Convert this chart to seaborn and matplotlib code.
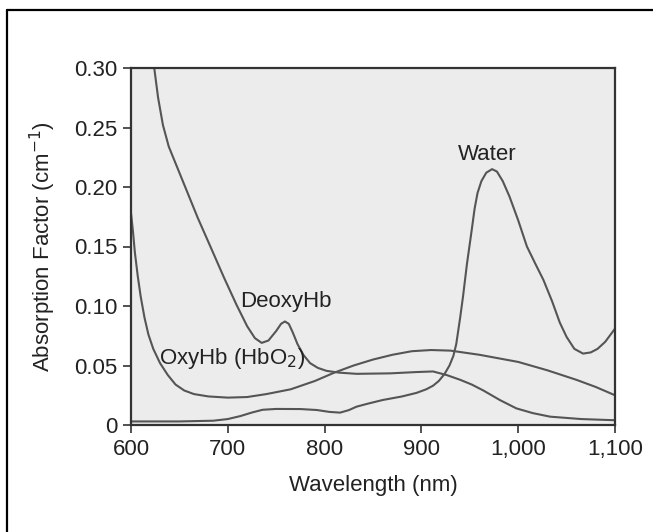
import matplotlib
matplotlib.use("Agg")
import matplotlib.pyplot as plt
import seaborn as sns
import pandas as pd
from matplotlib.lines import Line2D

# ---- data ----
deoxy_nm = [621, 624, 628, 633, 639, 647, 656, 669, 682, 696, 709, 720, 728, 735, 742, 750,
            755, 759, 763, 767, 772, 778, 785, 793, 802, 815, 833, 868, 895, 912, 926, 940,
            952, 964, 981, 998, 1015, 1033, 1065, 1100]
deoxy_val = [0.325, 0.300, 0.275, 0.252, 0.234, 0.218, 0.200, 0.174, 0.150, 0.124, 0.101, 0.083,
             0.073, 0.069, 0.071, 0.079, 0.085, 0.087, 0.085, 0.078, 0.068, 0.059, 0.052, 0.048,
             0.0455, 0.044, 0.043, 0.0434, 0.0445, 0.045, 0.042, 0.038, 0.034, 0.029, 0.021,
             0.014, 0.010, 0.007, 0.005, 0.004]

oxy_nm = [600, 602, 604, 607, 610, 614, 618, 623, 630, 638, 646, 655, 665, 680, 700, 720, 740,
          765, 790, 810, 830, 850, 870, 890, 910, 930, 960, 1000, 1030, 1060, 1080, 1100]
oxy_val = [0.178, 0.163, 0.145, 0.125, 0.108, 0.090, 0.076, 0.064, 0.052, 0.042, 0.034, 0.029,
           0.026, 0.024, 0.023, 0.0235, 0.026, 0.030, 0.037, 0.044, 0.050, 0.055, 0.059, 0.062,
           0.063, 0.0625, 0.059, 0.053, 0.046, 0.038, 0.032, 0.025]

water_nm = [600, 650, 685, 700, 713, 725, 736, 750, 775, 792, 805, 816, 825, 833, 845, 860, 880,
            895, 905, 912, 918, 924, 929, 933, 936, 940, 943, 947, 952, 955, 958, 962, 967, 973,
            978, 984, 991, 1000, 1009, 1018, 1026, 1035, 1043, 1050, 1058, 1067, 1075, 1082,
            1090, 1100]
water_val = [0.003, 0.003, 0.0036, 0.005, 0.0075, 0.0105, 0.0128, 0.0135, 0.0134, 0.0126, 0.011,
             0.0104, 0.0125, 0.0154, 0.018, 0.021, 0.024, 0.027, 0.030, 0.033, 0.037, 0.043,
             0.050, 0.058, 0.068, 0.090, 0.108, 0.135, 0.164, 0.182, 0.195, 0.205, 0.212, 0.215,
             0.213, 0.205, 0.192, 0.172, 0.150, 0.135, 0.122, 0.104, 0.086, 0.074, 0.064, 0.060,
             0.061, 0.064, 0.070, 0.081]

x_ticks = [600, 700, 800, 900, 1000, 1100]
x_tick_labels = ["600", "700", "800", "900", "1,000", "1,100"]
y_ticks = [0, 0.05, 0.10, 0.15, 0.20, 0.25, 0.30]
y_tick_labels = ["0", "0.05", "0.10", "0.15", "0.20", "0.25", "0.30"]

labels = {"Water": (968, 0.227), "DeoxyHb": (760, 0.104), "OxyHb (HbO$_2$)": (704, 0.056)}

# ---- plot ----
sns.set_theme(style="ticks")
plt.rcParams["font.family"] = ["Liberation Sans", "DejaVu Sans"]

fig = plt.figure(figsize=(6.53, 5.32), dpi=100)
ax = fig.add_axes([131 / 653, 107 / 532, 484 / 653, 357 / 532])
ax.set_facecolor("#ececec")

line_color = "#555555"
for nm, val in [(deoxy_nm, deoxy_val), (oxy_nm, oxy_val), (water_nm, water_val)]:
    df = pd.DataFrame({"nm": nm, "val": val})
    line = sns.lineplot(data=df, x="nm", y="val", ax=ax, color=line_color, linewidth=1.5,
                        sort=False, estimator=None)
for l in ax.lines:
    l.set_solid_joinstyle("round")

ax.set_xlim(600, 1100)
ax.set_ylim(0, 0.30)
ax.set_xticks(x_ticks)
ax.set_xticklabels(x_tick_labels)
ax.set_yticks(y_ticks)
ax.set_yticklabels(y_tick_labels)
ax.tick_params(axis="both", direction="out", length=6, width=1.2, color="#333333",
               labelsize=16, labelcolor="#222222", pad=4)
for s in ax.spines.values():
    s.set_color("#333333")
    s.set_linewidth(1.6)

ax.set_xlabel("Wavelength (nm)", fontsize=16, color="#222222", labelpad=11)
ax.set_ylabel("Absorption Factor (cm$^{-1}$)", fontsize=16, color="#222222", labelpad=11)

for txt, (x, y) in labels.items():
    ax.text(x, y, txt, fontsize=16, color="#222222", ha="center", va="center")

# outer frame (top and left edges)
fig.add_artist(Line2D([7 / 653, 1.0], [1 - 10 / 532, 1 - 10 / 532], transform=fig.transFigure,
                      color="black", linewidth=1.6))
fig.add_artist(Line2D([7 / 653, 7 / 653], [0.0, 1 - 10 / 532], transform=fig.transFigure,
                      color="black", linewidth=1.6))

fig.savefig("out.png", dpi=100)
